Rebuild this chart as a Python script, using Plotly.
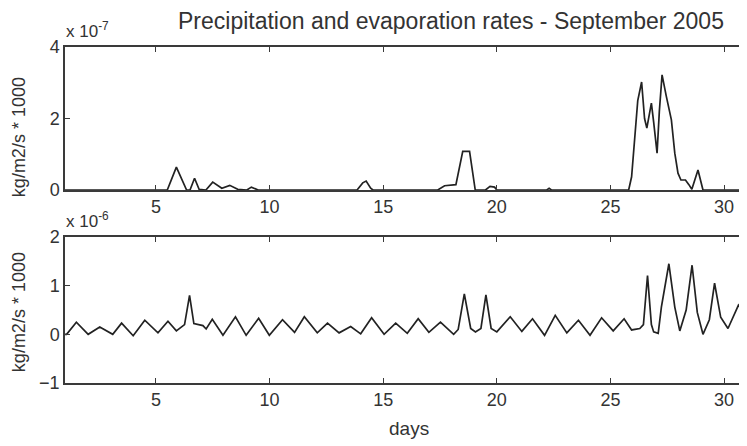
import plotly.graph_objects as go

# ---- data ----
precip_days = [1.0, 5.5, 5.9, 6.35, 6.5, 6.7, 6.9, 7.2, 7.5, 7.9, 8.25, 8.6, 9.0, 9.2, 9.5,
               13.85, 14.1, 14.25, 14.45, 14.55, 17.4, 17.7, 18.2, 18.5, 18.8, 19.05, 19.5,
               19.7, 19.9, 20.0, 22.2, 22.3, 22.4, 25.8, 25.93, 26.07, 26.2, 26.37, 26.5,
               26.6, 26.8, 26.9, 27.05, 27.15, 27.27, 27.46, 27.68, 27.83, 27.97, 28.1,
               28.3, 28.45, 28.58, 28.85, 29.07, 30.875]
precip_vals = [0.0, 0.0, 0.64, 0.0, 0.0, 0.33, 0.02, 0.0, 0.22, 0.05, 0.13, 0.02, 0.0, 0.08, 0.0,
               0.0, 0.2, 0.25, 0.05, 0.0, 0.0, 0.12, 0.15, 1.08, 1.08, 0.0, 0.0,
               0.1, 0.08, 0.0, 0.0, 0.05, 0.0, 0.0, 0.37, 1.5, 2.5, 3.02, 2.0,
               1.73, 2.43, 1.9, 1.03, 2.2, 3.22, 2.61, 1.96, 1.03, 0.47, 0.28,
               0.28, 0.15, 0.02, 0.56, 0.0, 0.0]

evap_days = [1.0, 1.07, 1.5, 2.02, 2.53, 3.1, 3.49, 4.0, 4.51, 5.09, 5.53, 5.9, 6.26, 6.48,
             6.67, 7.07, 7.21, 7.48, 7.95, 8.5, 8.97, 9.52, 9.99, 10.57, 11.1, 11.53, 12.1,
             12.55, 13.06, 13.57, 14.01, 14.49, 15.04, 15.55, 16.06, 16.54, 17.01, 17.52,
             18.1, 18.3, 18.57, 18.85, 19.06, 19.3, 19.52, 19.75, 20.0, 20.59, 21.1, 21.57,
             22.1, 22.57, 23.08, 23.59, 24.1, 24.61, 25.12, 25.6, 25.93, 26.29, 26.45, 26.63,
             26.8, 26.9, 27.1, 27.24, 27.57, 27.83, 28.05, 28.33, 28.59, 28.82, 29.07, 29.35,
             29.58, 29.85, 30.17, 30.63, 30.875]
evap_vals = [0.0, 0.0, 0.25, 0.0, 0.15, 0.0, 0.23, -0.03, 0.29, 0.03, 0.27, 0.07, 0.2, 0.8,
             0.22, 0.18, 0.11, 0.31, -0.02, 0.36, -0.02, 0.33, -0.02, 0.3, 0.04, 0.36, 0.03,
             0.23, 0.03, 0.16, 0.01, 0.34, 0.0, 0.23, 0.02, 0.32, 0.04, 0.25,
             0.0, 0.1, 0.83, 0.12, 0.05, 0.12, 0.81, 0.12, 0.05, 0.36, 0.06, 0.32,
             -0.02, 0.39, 0.03, 0.29, -0.02, 0.34, 0.07, 0.32, 0.09, 0.12, 0.2, 1.21,
             0.2, 0.05, 0.02, 0.56, 1.45, 0.56, 0.07, 0.5, 1.42, 0.45, 0.0, 0.3,
             1.05, 0.35, 0.12, 0.6, 0.45]

x_ticks = [5, 10, 15, 20, 25, 30]
top_yticks = [0, 2, 4]
bot_yticks = [-1, 0, 1, 2]

title_text = "Precipitation and evaporation rates - September 2005"
ylabel = "kg/m2/s * 1000"

# ---- figure ----
OFF = 8                      # page body margin in the browser
W, H = 747 - OFF, 446 - OFF
ML, MR, MT, MB = 65 - OFF, 1, 47 - OFF, 446 - 383
font_family = "Liberation Sans, Arial, sans-serif"
txt_col = "#333333"
line_col = "#222222"
axis_col = "#3a3a3a"

fig = go.Figure()
fig.add_trace(go.Scatter(x=precip_days, y=precip_vals, mode="lines",
                         line=dict(color=line_col, width=1.7), xaxis="x", yaxis="y",
                         showlegend=False))
fig.add_trace(go.Scatter(x=evap_days, y=evap_vals, mode="lines",
                         line=dict(color=line_col, width=1.7), xaxis="x2", yaxis="y2",
                         showlegend=False))

plot_h = H - MT - MB

def py(pix):
    """page pixel y -> paper coordinate"""
    return (H - MB - (pix - OFF)) / plot_h

def px(pix):
    """page pixel x -> paper coordinate"""
    return ((pix - OFF) - ML) / (W - ML - MR)

top_dom = [py(190), 1.0]
bot_dom = [0.0, py(237)]

common_x = dict(range=[1, 30.875], tickvals=x_ticks, ticks="inside", ticklen=5,
                tickwidth=1.2, tickcolor=axis_col, showline=True, linecolor=axis_col,
                linewidth=1.5, mirror="ticks", showgrid=False, zeroline=False,
                tickfont=dict(family=font_family, size=18, color=txt_col))
common_y = dict(ticks="inside", ticklen=5, tickwidth=1.2, tickcolor=axis_col,
                showline=True, linecolor=axis_col, linewidth=1.5, mirror="ticks",
                showgrid=False, zeroline=False,
                tickfont=dict(family=font_family, size=18, color=txt_col))

fig.update_layout(
    width=W, height=H,
    margin=dict(l=ML, r=MR, t=MT, b=MB),
    paper_bgcolor="white", plot_bgcolor="white",
    xaxis=dict(common_x, domain=[0, 1], anchor="y"),
    yaxis=dict(common_y, domain=top_dom, range=[0, 4], tickvals=top_yticks, anchor="x"),
    xaxis2=dict(common_x, domain=[0, 1], anchor="y2"),
    yaxis2=dict(common_y, domain=bot_dom, range=[-1, 2], tickvals=bot_yticks, anchor="x2"),
)

ann = [
    dict(text=title_text, x=px(452), y=py(21), xanchor="center", yanchor="middle",
         font=dict(family=font_family, size=23, color=txt_col)),
    dict(text="x 10<sup>-7</sup>", x=px(64), y=py(30), xanchor="left", yanchor="middle",
         font=dict(family=font_family, size=17, color=txt_col)),
    dict(text="x 10<sup>-6</sup>", x=px(64), y=py(220), xanchor="left", yanchor="middle",
         font=dict(family=font_family, size=17, color=txt_col)),
    dict(text=ylabel, x=px(19), y=py(137), textangle=-90, xanchor="center", yanchor="middle",
         font=dict(family=font_family, size=18, color=txt_col)),
    dict(text=ylabel, x=px(19), y=py(312), textangle=-90, xanchor="center", yanchor="middle",
         font=dict(family=font_family, size=18, color=txt_col)),
    dict(text="days", x=px(410), y=py(428), xanchor="center", yanchor="middle",
         font=dict(family=font_family, size=19, color=txt_col)),
]
for a in ann:
    a.update(xref="paper", yref="paper", showarrow=False)
fig.update_layout(annotations=ann)

fig.write_html("out.html")
